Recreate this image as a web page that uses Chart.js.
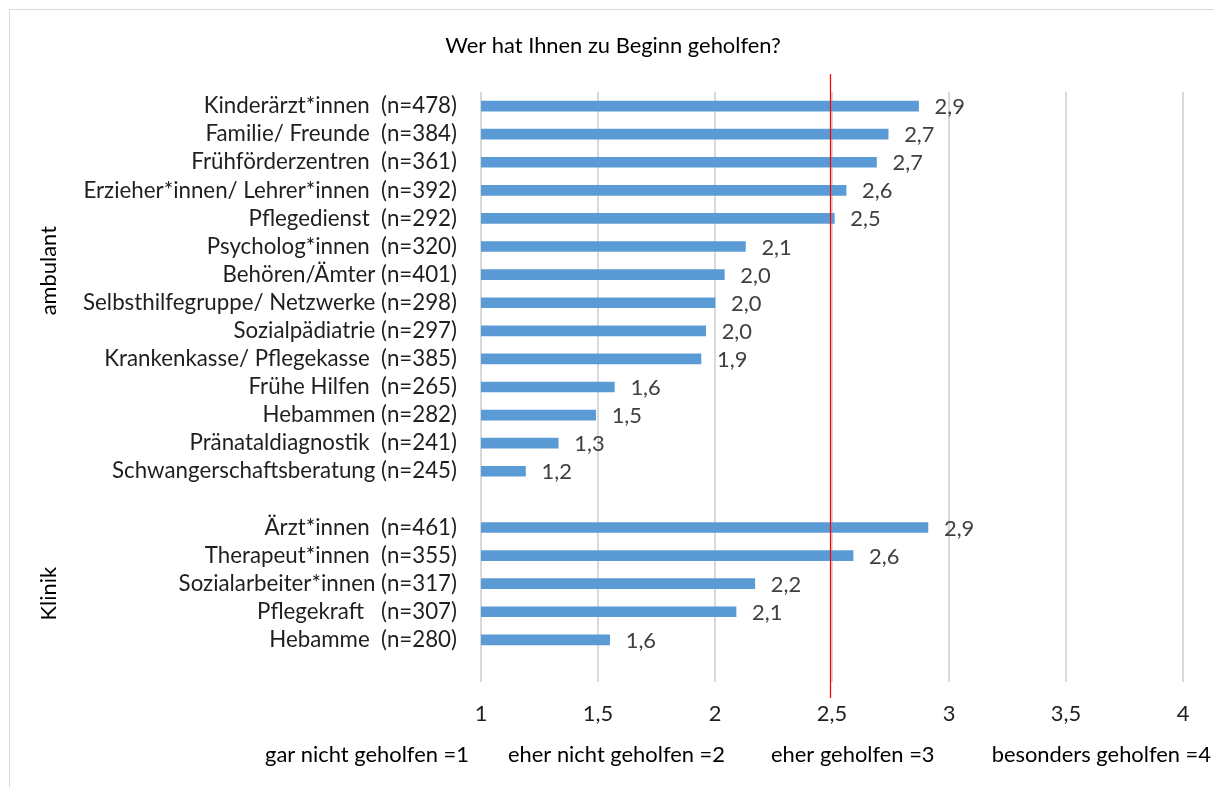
<!DOCTYPE html>
<html>
<head>
<meta charset="utf-8">
<script src="https://cdn.jsdelivr.net/npm/chart.js@4/dist/chart.umd.min.js"></script>
<style>
  html, body { margin: 0; padding: 0; background: #fff; }
  #wrap { position: relative; width: 1214px; height: 787px; }
</style>
</head>
<body>
<div id="wrap"><canvas id="c" width="1214" height="787"></canvas></div>
<script>
// ---------- data ----------
const categories = [
  'Kinderärzt*innen  (n=478)',
  'Familie/ Freunde  (n=384)',
  'Frühförderzentren  (n=361)',
  'Erzieher*innen/ Lehrer*innen  (n=392)',
  'Pflegedienst  (n=292)',
  'Psycholog*innen  (n=320)',
  'Behören/Ämter (n=401)',
  'Selbsthilfegruppe/ Netzwerke (n=298)',
  'Sozialpädiatrie (n=297)',
  'Krankenkasse/ Pflegekasse  (n=385)',
  'Frühe Hilfen  (n=265)',
  'Hebammen (n=282)',
  'Pränataldiagnostik  (n=241)',
  'Schwangerschaftsberatung (n=245)',
  '',
  'Ärzt*innen  (n=461)',
  'Therapeut*innen  (n=355)',
  'Sozialarbeiter*innen (n=317)',
  'Pflegekraft   (n=307)',
  'Hebamme  (n=280)',
  ''
];
const meanValues = [
  2.87, 2.74, 2.69, 2.56, 2.51, 2.13, 2.04, 2.00, 1.96, 1.94, 1.57, 1.49, 1.33, 1.19,
  null,
  2.91, 2.59, 2.17, 2.09, 1.55,
  null
];
const groupLabels = ['ambulant', 'Klinik'];
const groupRanges = [[0, 13], [15, 19]];   // category index ranges of each group
const tickValues = [1, 1.5, 2, 2.5, 3, 3.5, 4];
const tickLabels = ['1', '1,5', '2', '2,5', '3', '3,5', '4'];
const scaleLegend = ['gar nicht geholfen =1', 'eher nicht geholfen =2', 'eher geholfen =3', 'besonders geholfen =4'];
const referenceValue = 2.49;
const chartTitle = 'Wer hat Ihnen zu Beginn geholfen?';

// ---------- layout / style ----------
const FONT = 'Lato, "Open Sans", "Liberation Sans", sans-serif';
const BAR_COLOR = '#5b9bd5';
const GRID_COLOR = '#d9d9d9';
const TEXT_COLOR = '#1f1f1f';
const VALUE_COLOR = '#404040';
const legendX = [265, 508, 771, 1211];
const legendAlign = ['left', 'left', 'left', 'right'];
const groupOffset = [-18, 10];

function fitSize(text, target) {
  const cx = document.createElement('canvas').getContext('2d');
  cx.font = '100px ' + FONT;
  return 100 * target / cx.measureText(text).width;
}

function fmt(v) {
  return (Math.round(v * 10 + 1e-9) / 10).toFixed(1).replace('.', ',');
}

function build() {
  const SS = Math.round(fitSize('Erzieher*innen/ Lehrer*innen  (n=392)', 367) * 10) / 10;
  const LS = Math.round(fitSize('Erzieher*innen/ Lehrer*innen  (n=392)', 374) * 10) / 10;

  const overlay = {
    id: 'overlay',
    afterDatasetsDraw(chart) {
      const ctx = chart.ctx;
      const xs = chart.scales.x;
      const meta = chart.getDatasetMeta(0);
      ctx.save();
      ctx.font = SS + 'px ' + FONT;
      ctx.fillStyle = VALUE_COLOR;
      ctx.textAlign = 'left';
      ctx.textBaseline = 'middle';
      meta.data.forEach((el, i) => {
        const v = meanValues[i];
        if (v == null) return;
        ctx.fillText(fmt(v), el.x + 16, el.y + 1);
      });
      // reference line
      const rx = Math.round(xs.getPixelForValue(referenceValue)) + 0.5;
      ctx.strokeStyle = '#ff0000';
      ctx.lineWidth = 1.25;
      ctx.beginPath();
      ctx.moveTo(rx, 74);
      ctx.lineTo(rx, 698);
      ctx.stroke();
      ctx.restore();
    },
    afterDraw(chart) {
      const ctx = chart.ctx;
      const ys = chart.scales.y;
      ctx.save();
      // outer border
      ctx.strokeStyle = '#d9d9d9';
      ctx.lineWidth = 1;
      ctx.strokeRect(9.5, 9.5, 1300, 900);
      // title
      ctx.fillStyle = '#000';
      ctx.font = SS + 'px ' + FONT;
      ctx.textAlign = 'center';
      ctx.textBaseline = 'middle';
      ctx.fillText(chartTitle, 613, 46);
      // group labels
      groupLabels.forEach((g, k) => {
        const [a, b] = groupRanges[k];
        const yc = (ys.getPixelForValue(a) + ys.getPixelForValue(b)) / 2;
        ctx.save();
        ctx.translate(49, yc + groupOffset[k]);
        ctx.rotate(-Math.PI / 2);
        ctx.textAlign = 'center';
        ctx.textBaseline = 'middle';
        ctx.fillStyle = '#000';
        ctx.fillText(g, 0, 0);
        ctx.restore();
      });
      // scale legend
      ctx.fillStyle = '#000';
      scaleLegend.forEach((t, i) => {
        ctx.textAlign = legendAlign[i];
        ctx.fillText(t, legendX[i], 755);
      });
      ctx.restore();
    }
  };

  new Chart(document.getElementById('c'), {
    type: 'bar',
    data: {
      labels: categories,
      datasets: [{
        data: meanValues,
        backgroundColor: BAR_COLOR,
        barThickness: 10,
        borderWidth: 0
      }]
    },
    options: {
      indexAxis: 'y',
      responsive: false,
      maintainAspectRatio: false,
      animation: false,
      layout: { padding: { left: 0, right: 31, top: 92, bottom: 0 } },
      plugins: { legend: { display: false }, tooltip: { enabled: false }, title: { display: false } },
      scales: {
        x: {
          type: 'linear',
          min: 1, max: 4,
          afterBuildTicks(scale) { scale.ticks = tickValues.map(v => ({ value: v })); },
          afterFit(scale) { scale.height = 105; },
          ticks: {
            callback: (v) => tickLabels[tickValues.indexOf(v)],
            font: { family: FONT, size: SS },
            color: TEXT_COLOR,
            padding: 19,
            maxRotation: 0
          },
          grid: { color: GRID_COLOR, lineWidth: 2, drawTicks: false },
          border: { display: false }
        },
        y: {
          type: 'category',
          afterFit(scale) { scale.width = 481; },
          ticks: {
            autoSkip: false,
            font: { family: FONT, size: LS },
            color: TEXT_COLOR,
            padding: 24
          },
          grid: { display: false, drawTicks: false },
          border: { display: false }
        }
      }
    },
    plugins: [overlay]
  });
}

if (document.fonts && document.fonts.load) {
  Promise.all([document.fonts.load('20px Lato')]).then(build, build);
} else {
  build();
}
</script>
</body>
</html>
